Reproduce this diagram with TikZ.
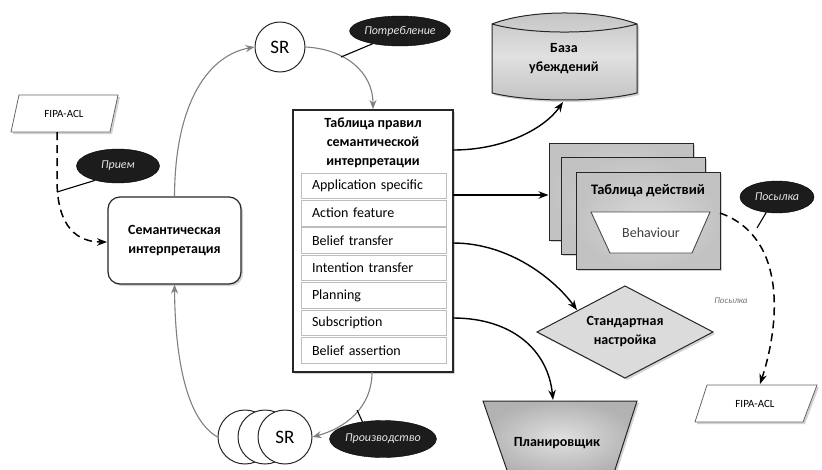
\documentclass[tikz,border=0pt]{standalone}
\usepackage{fontspec}
\setmainfont{Carlito}
\usetikzlibrary{arrows.meta,shadows,calc,shapes.geometric}
\definecolor{linegray}{HTML}{7F7F7F}
\definecolor{rowgray}{HTML}{BDBDBD}
\definecolor{blobfill}{HTML}{1C1C1C}
\definecolor{blobtext}{HTML}{E6E6E6}
\definecolor{cardgray}{HTML}{C2C2C2}
\definecolor{cardlight}{HTML}{D9D9D9}
\begin{document}
\begin{tikzpicture}[x=1pt,y=-1pt,
  softshadow/.style={drop shadow={opacity=0.25,shadow xshift=2pt,shadow yshift=-2pt,fill=black!70}},
  outline/.style={draw=black!85,line width=1.2pt},
  lbl/.style={inner sep=0pt,align=center,font=\fontsize{14}{19}\selectfont},
  blbl/.style={inner sep=0pt,align=center,font=\fontsize{14}{19}\selectfont\bfseries},
  blob/.style={ellipse,fill=blobfill,draw=black,inner sep=0pt,text=blobtext,
    font=\fontsize{12}{14}\selectfont\itshape},
  srcircle/.style={circle,outline,line width=1pt,fill=white,minimum size=50pt,inner sep=0pt,
    font=\fontsize{19}{21}\selectfont},
  rulerow/.style={draw=rowgray,line width=0.9pt,fill=white,minimum width=145pt,minimum height=25.5pt,
    text width=123pt,inner xsep=11pt,inner ysep=0pt,align=left,font=\fontsize{14}{16}\selectfont},
  card/.style={outline,line width=1pt,minimum width=144pt,minimum height=97pt,
    inner color=cardlight,outer color=cardgray,softshadow},
  blackarrow/.style={draw=black,line width=1.4pt,-{Stealth[length=10pt,width=7.5pt]}},
  grayarrow/.style={draw=linegray,line width=1.1pt,-{Stealth[length=9pt,width=7pt]}},
  dasharrow/.style={draw=black,line width=1.5pt,dash pattern=on 8pt off 5pt,
    -{Stealth[length=10pt,width=7.5pt]}},
  leader/.style={draw=black,line width=1.1pt}]
\useasboundingbox (0,0) rectangle (822,469);

% ---------- incoming message ----------
\path[draw=black!60,line width=0.8pt,fill=white,softshadow]
  (19,95) -- (118,95) -- (110,132) -- (11,132) -- cycle;
\node[inner sep=0pt,font=\fontsize{11}{13}\selectfont] (fipaIn) at (64,113.5) {FIPA-ACL};
\coordinate (fipaInBot) at (57,132);

% ---------- semantic interpretation ----------
\node[outline,rounded corners=12pt,fill=white,minimum width=133pt,minimum height=87pt,softshadow]
  (sem) at (174.5,240.5) {};
\node[blbl] (semText) at (sem) {Семантическая\\интерпретация};

\coordinate (semIn) at (107,242);
\coordinate (priemHook) at (57,192);
\draw[dasharrow] (fipaInBot) -- (57,180) .. controls (57,228) and (78,242) .. (semIn);
\node[blob,minimum width=83pt,minimum height=34pt] (priem) at (118,166) {Прием};
\draw[leader] (priem.212) -- (priemHook);

% ---------- SR circles ----------
\node[srcircle] (srTop) at (280,47) {SR};
\node[srcircle,minimum size=54pt] (srB3) at (245,437) {};
\node[srcircle,minimum size=54pt] (srB2) at (265,437) {};
\node[srcircle,minimum size=54pt] (srB1) at (285,437) {SR};

% ---------- rule table ----------
\node[outline,fill=white,minimum width=160pt,minimum height=262pt,inner sep=0pt,softshadow]
  (tbl) at (373,241) {};
\node[blbl] (tblTitle) at (373,142.5) {Таблица правил\\семантической\\интерпретации};
\foreach \i/\t in {1/Application specific,2/Action feature,3/Belief transfer,
                   4/Intention transfer,5/Planning,6/Subscription,7/Belief assertion}{
  \node[rulerow] (row\i) at (373.5,{173+27.45*(\i-1)+12.75}) {\t};
}

% ---------- circulation between the interpreter and the rule table ----------
\draw[grayarrow] (sem.north) .. controls (175,100) and (210,55) .. (srTop.west);
\coordinate (tblTop) at (373,109);
\coordinate (consHook) at (341,57);
\draw[grayarrow] (srTop.east) .. controls (345,49) and (373,72) .. (tblTop);
\node[blob,minimum width=83pt,minimum height=30pt] (cons) at (400,31) {Потребление};
\draw[leader] (cons.205) -- (consHook);

\coordinate (tblBot) at (372,372);
\coordinate (prodHook) at (357,410);
\draw[grayarrow] (tblBot) .. controls (372,408) and (345,428) .. (srB1.east);
\node[blob,minimum width=83pt,minimum height=37pt] (prod) at (383,439) {Производство};
\draw[leader] (prod.140) -- (prodHook);
\draw[grayarrow] (srB3.west) .. controls (184,418) and (175,350) .. (sem.south);

% ---------- belief base ----------
\path[outline,line width=1pt,top color=cardgray,bottom color=cardgray,middle color=cardlight!80!white,softshadow]
  (492,24) .. controls (530,9.3) and (599,9.3) .. (637,24) -- (637,93)
  .. controls (599,102.3) and (530,102.3) .. (492,93) -- cycle;
\draw[outline,line width=1pt] (492,24) .. controls (530,34.7) and (599,34.7) .. (637,24);
\node[blbl] (base) at (564,59) {База\\убеждений};
\coordinate (baseBot) at (563,102);

% ---------- action table stack ----------
\node[card] (card1) at (621,191.5) {};
\node[card] (card2) at (633,205.5) {};
\node[card] (card3) at (648,220.5) {};
\node[blbl,font=\fontsize{14.5}{17}\selectfont\bfseries] (actTitle) at (648,191) {Таблица действий};
\path[draw=black!70,line width=0.9pt,fill=white]
  (591,212) -- (710,212) -- (692,253) -- (610,253) -- cycle;
\node[lbl,text=black!75] (beh) at (651,233) {Behaviour};

% ---------- standard setting ----------
\path[outline,line width=1pt,fill=black!14,softshadow]
  (537,332) -- (625,286) -- (713,332) -- (625,378) -- cycle;
\node[blbl] (std) at (625,332) {Стандартная\\настройка};
\coordinate (stdIn) at (577,310);

% ---------- planner ----------
\path[outline,line width=1pt,inner color=black!12,outer color=black!30,softshadow]
  (483,401) -- (637,401) -- (613,476) -- (509,476) -- cycle;
\node[blbl] (plan) at (557,443) {Планировщик};
\coordinate (planTop) at (553,400);

% ---------- outputs of the rule table ----------
\coordinate (tblA) at (453,150);
\coordinate (tblB) at (453,195);
\coordinate (tblC) at (453,243);
\coordinate (tblD) at (453,318);
\draw[blackarrow] (tblA) .. controls (505,150) and (545,128) .. (baseBot);
\draw[blackarrow] (tblB) -- (tblB -| card1.west);
\draw[blackarrow] (tblC) .. controls (510,243) and (555,280) .. (stdIn);
\draw[blackarrow] (tblD) .. controls (512,318) and (548,350) .. (planTop);

% ---------- outgoing message ----------
\path[draw=black!60,line width=0.8pt,fill=white,softshadow]
  (707,385) -- (817,385) -- (803,422) -- (695,422) -- cycle;
\node[inner sep=0pt,font=\fontsize{11}{13}\selectfont] (fipaOut) at (755,403.5) {FIPA-ACL};
\coordinate (sendStart) at (720,213);
\coordinate (fipaOutTop) at (760,384);
\coordinate (sendHook) at (757,228);
\draw[dasharrow] (sendStart) .. controls (790,238) and (778,330) .. (fipaOutTop);
\node[blob,minimum width=74pt,minimum height=32pt] (send) at (777,197) {Посылка};
\draw[leader] (send.235) -- (sendHook);
\node[inner sep=0pt,text=black!55,font=\fontsize{9}{11}\selectfont\itshape] (sendNote) at (731,301) {Посылка};
\end{tikzpicture}
\end{document}
